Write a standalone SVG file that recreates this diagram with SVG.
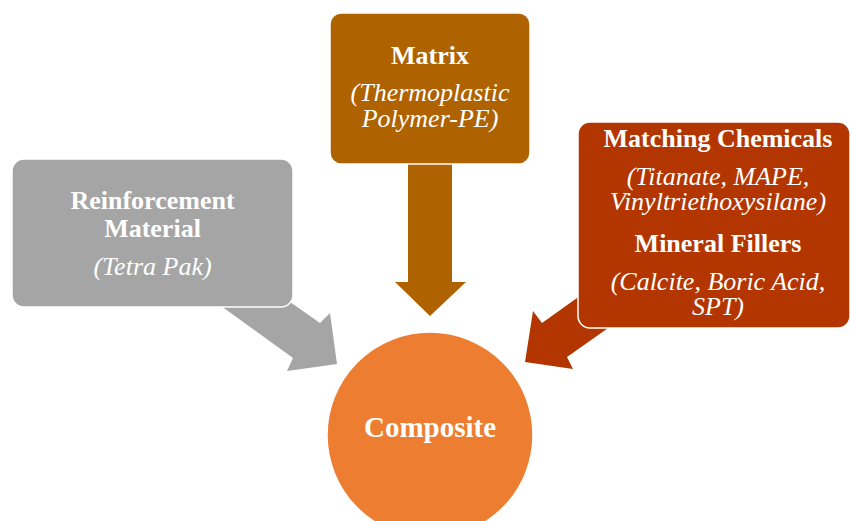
<svg xmlns="http://www.w3.org/2000/svg" width="851" height="521" viewBox="0 0 851 521">
<style>
.b{font-family:"Liberation Serif","Times New Roman",serif;font-weight:bold;font-size:26px;fill:#fff;text-anchor:middle}
.i{font-family:"Liberation Serif","Times New Roman",serif;font-style:italic;font-size:26px;fill:#fff;text-anchor:middle}
.box{stroke:#fff;stroke-width:1.5}
</style>
<rect width="851" height="521" fill="#fff"/>
<g id="connectors">
<polygon points="185,280 253,276 320,323 330,313 337,364 287,371 293,358" fill="#A5A5A5"/>
<polygon points="408,150 452,150 452,282 466,282 430,316 395,282 408,282" fill="#AE6200"/>
<polygon points="612,273 638,307 567,357 573,369 525,362 533,311 542,323" fill="#B33600"/>
</g>
<g id="reinforcement">
<rect class="box" x="12" y="159" width="281" height="148" rx="12" fill="#A5A5A5"/>
<text class="b" x="152.5" y="209">Reinforcement</text>
<text class="b" x="152.5" y="237">Material</text>
<text class="i" x="152.5" y="275">(Tetra Pak)</text>
</g>
<g id="matrix">
<rect class="box" x="330" y="13" width="200" height="151" rx="11" fill="#AE6200"/>
<text class="b" x="430" y="64">Matrix</text>
<text class="i" x="430" y="101">(Thermoplastic</text>
<text class="i" x="430" y="127">Polymer-PE)</text>
</g>
<g id="chemicals">
<rect class="box" x="578" y="122" width="272" height="206" rx="12" fill="#B33600"/>
<text class="b" x="718" y="147">Matching Chemicals</text>
<text class="i" x="718" y="185">(Titanate, MAPE,</text>
<text class="i" x="718" y="210">Vinyltriethoxysilane)</text>
<text class="b" x="718" y="252">Mineral Fillers</text>
<text class="i" x="718" y="290">(Calcite, Boric Acid,</text>
<text class="i" x="718" y="315">SPT)</text>
</g>
<g id="composite">
<circle cx="430" cy="435" r="103" fill="#ED7D31" stroke="#fff" stroke-width="1.5"/>
<text class="b" x="430" y="437" style="font-size:29px">Composite</text>
</g>
</svg>
